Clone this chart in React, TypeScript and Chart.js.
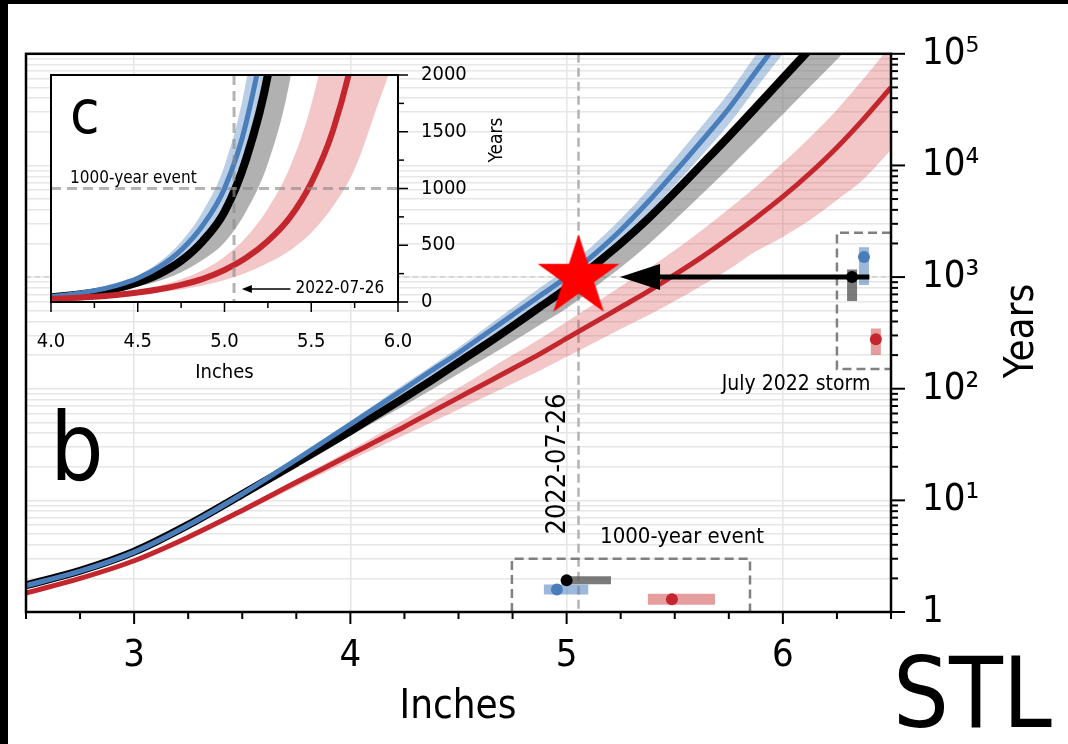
import React, { useEffect, useRef } from "react";
import { Chart, registerables } from "chart.js";
Chart.register(...registerables);

const FONT = '"DejaVu Sans Condensed", "DejaVu Sans", sans-serif';

// ---------------- data ----------------
const inches = [2.5, 2.75, 3, 3.25, 3.5, 3.75, 4, 4.125, 4.25, 4.375, 4.5, 4.625, 4.75, 4.875, 5, 5.125, 5.25, 5.375, 5.5, 5.625, 5.75, 5.875, 6, 6.125, 6.25, 6.375, 6.5];

// black curve (return period, years) with its band
const blackMid = [1.74, 2.34, 3.47, 6.03, 11.35, 21.6, 41.7, 58.9, 83.2, 119, 172, 248, 363, 537, 794, 1260, 2000, 3310, 5750, 10200, 18200, 33100, 60300, 110000, 200000, 372000, 708000];
const blackHi = [1.78, 2.4, 3.55, 6.17, 11.6, 22.4, 43.7, 61.9, 88.1, 126, 184, 267, 394, 585, 871, 1390, 2210, 3690, 6460, 11500, 20700, 37800, 69200, 127000, 232000, 434000, 832000];
const blackLo = [1.7, 2.29, 3.35, 5.75, 10.7, 20.2, 38, 51.9, 70.8, 97.7, 136, 188, 263, 372, 525, 800, 1220, 1940, 3240, 5530, 9440, 16500, 28800, 50700, 89100, 160000, 295000];

// blue curve
const blueMid = [1.72, 2.32, 3.44, 5.98, 11.4, 23.2, 47.9, 69.2, 100, 145, 209, 309, 457, 676, 1000, 1580, 2630, 4680, 8710, 16600, 32400, 69200, 145000, 302000, 631000, 1320000, 2750000];
const blueHi = [1.76, 2.37, 3.52, 6.14, 11.8, 24.3, 51.3, 75, 110, 160, 234, 352, 531, 798, 1200, 1950, 3310, 6030, 11500, 22400, 44700, 97700, 209000, 447000, 955000, 2040000, 4370000];
const blueLo = [1.68, 2.27, 3.36, 5.82, 11, 22.2, 44.7, 63.8, 91.2, 130, 186, 271, 394, 573, 832, 1290, 2090, 3630, 6610, 12300, 23400, 49000, 100000, 204000, 417000, 851000, 1740000];

// red curve
const redMid = [1.48, 2, 2.88, 4.68, 8.13, 14.5, 25.7, 34.3, 45.7, 61.7, 83.2, 112, 151, 204, 282, 389, 537, 741, 1050, 1510, 2240, 3390, 5250, 8510, 14500, 26300, 50100];
const redHi = [1.51, 2.04, 2.95, 4.84, 8.51, 15.5, 28.2, 38.6, 53.1, 73.6, 102, 143, 200, 279, 398, 571, 822, 1180, 1740, 2630, 4070, 6460, 10500, 17800, 31600, 60300, 120000];
const redLo = [1.45, 1.95, 2.79, 4.47, 7.67, 13.3, 22.9, 29.7, 38.5, 50.1, 65.3, 85.1, 111, 145, 193, 257, 343, 452, 610, 841, 1170, 1700, 2290, 3240, 4900, 7590, 13800];

// axis ticks
const yMajorTicks = [1, 10, 100, 1000, 10000, 100000];
const yTickLabels = ["1", "10\u00B9", "10\u00B2", "10\u00B3", "10\u2074", "10\u2075"];
const insetYTickLabels = [0, 500, 1000, 1500, 2000];
const insetXTickLabels = [4.0, 4.5, 5.0, 5.5, 6.0];

// storm of 2022-07-26
const stormInches = 5.055;
const thresholdYears = 1000;
const stormDateLabel = "2022-07-26";

// 1000-year event estimates (inches) : black, blue, red
const eventInches = [5.0, 4.955, 5.487];
const eventLow = [5.0, 4.895, 5.376];
const eventHigh = [5.205, 5.1, 5.686];

// July 2022 storm return period estimates (years) : black, blue, red
const stormYears = [1000, 1510, 277];
const stormLow = [610, 850, 200];
const stormHigh = [1170, 1850, 347];

// ---------------- styles ----------------
const BLUE = "#4a7ebb";
const RED = "#c4262e";
const BLACK = "#000000";
const COLORS = [BLACK, BLUE, RED];
const BAR_COLORS = ["rgba(90,90,90,0.8)", "rgba(74,126,187,0.55)", "rgba(205,60,60,0.5)"];
const GRID = "#e6e6e6";

type Series = { mid: number[]; lo: number[]; hi: number[]; color: string; band: string; order: number };
const SERIES: Series[] = [
  { mid: blackMid, lo: blackLo, hi: blackHi, color: BLACK, band: "rgba(100,100,100,0.5)", order: 3 },
  { mid: blueMid, lo: blueLo, hi: blueHi, color: BLUE, band: "rgba(74,126,187,0.38)", order: 2 },
  { mid: redMid, lo: redLo, hi: redHi, color: RED, band: "rgba(214,70,70,0.3)", order: 1 },
];

const pts = (ys: number[]) => inches.map((x, i) => ({ x, y: ys[i] }));

function curveDatasets(widths: number[]) {
  const ds: any[] = [];
  SERIES.forEach((s, k) => {
    const loIdx = ds.length;
    ds.push({ data: pts(s.lo), borderWidth: 0, pointRadius: 0, fill: false, cubicInterpolationMode: "monotone", order: 10 });
    ds.push({ data: pts(s.hi), borderWidth: 0, pointRadius: 0, fill: { target: loIdx }, backgroundColor: s.band, cubicInterpolationMode: "monotone", order: 10 });
    ds.push({ data: pts(s.mid), borderColor: s.color, borderWidth: widths[k], pointRadius: 0, fill: false, cubicInterpolationMode: "monotone", order: s.order, borderCapStyle: "butt" });
  });
  return ds;
}

function makeStar(R: number) {
  const c = document.createElement("canvas");
  const size = Math.ceil(2 * R + 2);
  c.width = size;
  c.height = size;
  const g = c.getContext("2d")!;
  g.fillStyle = "#ff0000";
  g.beginPath();
  for (let i = 0; i < 10; i++) {
    const r = i % 2 === 0 ? R : R * 0.382;
    const a = -Math.PI / 2 + (i * Math.PI) / 5;
    const px = size / 2 + r * Math.cos(a);
    const py = size / 2 + r * Math.sin(a);
    if (i === 0) g.moveTo(px, py);
    else g.lineTo(px, py);
  }
  g.closePath();
  g.fill();
  return c;
}

function seg(ctx: CanvasRenderingContext2D, x1: number, y1: number, x2: number, y2: number) {
  ctx.beginPath();
  ctx.moveTo(x1, y1);
  ctx.lineTo(x2, y2);
  ctx.stroke();
}

// annotation positions (data coordinates)
const stormBox = { x0: 6.25, y0: 150, y1: 2500 };
const eventBox = { x0: 4.747, x1: 5.848, y1: 3 };
const eventRowY = [1.92, 1.59, 1.3];
const stormColX = [6.32, 6.375, 6.43];
const arrowTail = 6.4;
const arrowTip = 5.247;

const mainPlugin = {
  id: "mainDecor",
  beforeDraw(chart: any) {
    const { ctx, width, height } = chart;
    ctx.save();
    ctx.fillStyle = "#fff";
    ctx.fillRect(0, 0, width, height);
    ctx.fillStyle = "#000";
    ctx.fillRect(0, 0, 8, height);
    ctx.fillRect(0, 0, width, 4);
    ctx.restore();
  },
  beforeDatasetsDraw(chart: any) {
    const { ctx, chartArea: a } = chart;
    const x = chart.scales.x;
    const y = chart.scales.y;
    ctx.save();
    ctx.beginPath();
    ctx.rect(a.left, a.top, a.right - a.left, a.bottom - a.top);
    ctx.clip();
    const yT = y.getPixelForValue(thresholdYears);
    ctx.setLineDash([5, 4]);
    ctx.strokeStyle = "#d0d0d0";
    ctx.lineWidth = 1.5;
    seg(ctx, a.left, yT, a.right, yT);
    const xs = x.getPixelForValue(stormInches);
    ctx.setLineDash([9, 5]);
    ctx.strokeStyle = "#b3b3b3";
    ctx.lineWidth = 2.5;
    seg(ctx, xs, a.top, xs, a.bottom);
    ctx.strokeStyle = "#808080";
    ctx.setLineDash([9, 5]);
    const sx0 = x.getPixelForValue(stormBox.x0);
    const sy0 = y.getPixelForValue(stormBox.y1);
    const sy1 = y.getPixelForValue(stormBox.y0);
    ctx.beginPath();
    ctx.moveTo(a.right, sy0);
    ctx.lineTo(sx0, sy0);
    ctx.lineTo(sx0, sy1);
    ctx.lineTo(a.right, sy1);
    ctx.stroke();
    const ex0 = x.getPixelForValue(eventBox.x0);
    const ex1 = x.getPixelForValue(eventBox.x1);
    const ey0 = y.getPixelForValue(eventBox.y1);
    ctx.beginPath();
    ctx.moveTo(ex0, a.bottom);
    ctx.lineTo(ex0, ey0);
    ctx.lineTo(ex1, ey0);
    ctx.lineTo(ex1, a.bottom);
    ctx.stroke();
    ctx.restore();
  },
  afterDatasetsDraw(chart: any) {
    const { ctx } = chart;
    const x = chart.scales.x;
    const y = chart.scales.y;
    const yA = y.getPixelForValue(thresholdYears);
    const xt = x.getPixelForValue(arrowTip);
    const xe = x.getPixelForValue(arrowTail);
    ctx.save();
    ctx.strokeStyle = "#000";
    ctx.fillStyle = "#000";
    ctx.lineWidth = 5;
    seg(ctx, xt + 30, yA, xe, yA);
    ctx.beginPath();
    ctx.moveTo(xt, yA);
    ctx.lineTo(xt + 40, yA - 13);
    ctx.lineTo(xt + 40, yA + 13);
    ctx.closePath();
    ctx.fill();
    ctx.restore();
  },
  afterDraw(chart: any) {
    const { ctx, chartArea: a } = chart;
    const x = chart.scales.x;
    const y = chart.scales.y;
    ctx.save();
    ctx.strokeStyle = "#000";
    ctx.lineWidth = 2;
    ctx.setLineDash([]);
    x.ticks.forEach((t: any) => {
      const px = x.getPixelForValue(t.value);
      const L = Number.isInteger(t.value) ? 12 : 7;
      seg(ctx, px, a.bottom, px, a.bottom + L);
    });
    y.ticks.forEach((t: any) => {
      const py = y.getPixelForValue(t.value);
      const L = yMajorTicks.includes(t.value) ? 14 : 7;
      seg(ctx, a.right, py, a.right + L, py);
    });
    ctx.lineWidth = 2.5;
    ctx.strokeRect(a.left, a.top, a.right - a.left, a.bottom - a.top);

    ctx.fillStyle = "#000";
    // panel letter
    ctx.font = `94px ${FONT}`;
    ctx.textAlign = "left";
    ctx.textBaseline = "alphabetic";
    ctx.fillText("b", 50, 480);
    // storm date (rotated)
    ctx.save();
    ctx.translate(x.getPixelForValue(stormInches) - 21, 464);
    ctx.rotate(-Math.PI / 2);
    ctx.font = `27px ${FONT}`;
    ctx.textAlign = "center";
    ctx.textBaseline = "middle";
    ctx.fillText(stormDateLabel, 0, 0);
    ctx.restore();
    // box labels
    ctx.font = `22px ${FONT}`;
    ctx.textAlign = "center";
    ctx.textBaseline = "alphabetic";
    ctx.fillText("1000-year event", 682, 543);
    ctx.font = `21px ${FONT}`;
    ctx.fillText("July 2022 storm", 796, 390);
    // axis titles
    ctx.font = `40px ${FONT}`;
    ctx.textBaseline = "middle";
    ctx.fillText("Inches", 458, 708);
    ctx.save();
    ctx.translate(1023, 331);
    ctx.rotate(-Math.PI / 2);
    ctx.font = `40px ${FONT}`;
    ctx.fillText("Years", 0, 0);
    ctx.restore();
    // station
    ctx.font = `98px ${FONT}`;
    ctx.textAlign = "left";
    ctx.textBaseline = "alphabetic";
    ctx.fillText("STL", 893, 727);
    ctx.restore();
  },
};

function mainConfig(star: HTMLCanvasElement): any {
  const ds = curveDatasets([8, 5, 5]);
  // 1000-year event bars and dots, July 2022 storm bars and dots
  [0, 1, 2].forEach((k) => {
    ds.push({
      data: [{ x: eventLow[k], y: eventRowY[k] }, { x: eventHigh[k], y: eventRowY[k] }],
      borderColor: BAR_COLORS[k], borderWidth: [8, 10, 11][k], pointRadius: 0, borderCapStyle: "butt", order: 0.5, fill: false,
    });
    ds.push({
      data: [{ x: eventInches[k], y: eventRowY[k] }],
      showLine: false, pointRadius: 6, pointBackgroundColor: COLORS[k], pointBorderWidth: 0, order: 0.2,
    });
    ds.push({
      data: [{ x: stormColX[k], y: stormLow[k] }, { x: stormColX[k], y: stormHigh[k] }],
      borderColor: BAR_COLORS[k], borderWidth: 10, pointRadius: 0, borderCapStyle: "butt", order: 0.5, fill: false,
    });
    ds.push({
      data: [{ x: stormColX[k], y: stormYears[k] }],
      showLine: false, pointRadius: 6, pointBackgroundColor: COLORS[k], pointBorderWidth: 0, order: 0.2,
    });
  });
  ds.push({
    data: [{ x: stormInches, y: thresholdYears }],
    showLine: false, pointRadius: 10, pointStyle: star, order: 0,
  });
  return {
    type: "line",
    data: { datasets: ds },
    plugins: [mainPlugin],
    options: {
      animation: false,
      responsive: false,
      devicePixelRatio: 1,
      events: [],
      layout: { padding: { left: 26, top: 47, right: 0, bottom: 0 } },
      plugins: { legend: { display: false }, tooltip: { enabled: false } },
      scales: {
        x: {
          type: "linear",
          min: 2.5,
          max: 6.5,
          afterBuildTicks: (s: any) => {
            const t = [];
            for (let v = 2.5; v <= 6.5 + 1e-9; v += 0.25) t.push({ value: v });
            s.ticks = t;
          },
          afterFit: (s: any) => {
            s.height = 132;
          },
          ticks: {
            autoSkip: false,
            maxRotation: 0,
            padding: 21,
            color: "#000",
            font: { family: FONT, size: 38 },
            callback: (v: any) => (Number.isInteger(v) ? String(v) : ""),
          },
          grid: {
            drawTicks: false,
            lineWidth: 1.5,
            color: (c: any) => (c.tick && Number.isInteger(c.tick.value) ? GRID : "rgba(0,0,0,0)"),
          },
          border: { display: false },
        },
        y: {
          type: "logarithmic",
          position: "right",
          min: 1,
          max: 100000,
          afterBuildTicks: (s: any) => {
            const t: any[] = [];
            yMajorTicks.forEach((m, i) => {
              t.push({ value: m });
              if (i < yMajorTicks.length - 1) for (let k = 2; k <= 9; k++) t.push({ value: m * k });
            });
            s.ticks = t;
          },
          afterFit: (s: any) => {
            s.width = 177;
          },
          ticks: {
            autoSkip: false,
            padding: 31,
            color: "#000",
            font: { family: FONT, size: 38 },
            callback: (v: any) => {
              const i = yMajorTicks.indexOf(Number(v));
              return i >= 0 ? yTickLabels[i] : "";
            },
          },
          grid: { drawTicks: false, lineWidth: 1.5, color: GRID },
          border: { display: false },
        },
      },
    },
  };
}

const insetPlugin = {
  id: "insetDecor",
  beforeDraw(chart: any) {
    const { ctx, chartArea: a } = chart;
    ctx.save();
    ctx.fillStyle = "#fff";
    ctx.fillRect(a.left, a.top, a.right - a.left, a.bottom - a.top);
    ctx.restore();
  },
  afterDatasetsDraw(chart: any) {
    const { ctx, chartArea: a } = chart;
    const x = chart.scales.x;
    const y = chart.scales.y;
    ctx.save();
    ctx.beginPath();
    ctx.rect(a.left, a.top, a.right - a.left, a.bottom - a.top);
    ctx.clip();
    ctx.strokeStyle = "rgba(140,140,140,0.65)";
    ctx.lineWidth = 3;
    ctx.setLineDash([10, 6]);
    const xs = x.getPixelForValue(stormInches);
    seg(ctx, xs, a.top, xs, a.bottom);
    const yT = y.getPixelForValue(thresholdYears);
    seg(ctx, a.left, yT, a.right, yT);
    ctx.restore();
  },
  afterDraw(chart: any) {
    const { ctx, chartArea: a } = chart;
    const x = chart.scales.x;
    const y = chart.scales.y;
    ctx.save();
    ctx.strokeStyle = "#000";
    ctx.lineWidth = 1.5;
    x.ticks.forEach((t: any) => {
      const px = x.getPixelForValue(t.value);
      const L = Number.isInteger(t.value * 2) ? 10 : 6;
      seg(ctx, px, a.bottom, px, a.bottom + L);
    });
    y.ticks.forEach((t: any) => {
      const py = y.getPixelForValue(t.value);
      const L = t.value % 500 === 0 ? 10 : 6;
      seg(ctx, a.right, py, a.right + L, py);
    });
    ctx.lineWidth = 2;
    ctx.strokeRect(a.left, a.top, a.right - a.left, a.bottom - a.top);
    ctx.fillStyle = "#000";
    ctx.font = `60px ${FONT}`;
    ctx.textAlign = "left";
    ctx.textBaseline = "alphabetic";
    ctx.fillText("c", 70, 133);
    ctx.font = `17px ${FONT}`;
    ctx.fillText("1000-year event", 70, 183);
    // arrow pointing to the storm date
    const ya = y.getPixelForValue(115);
    const xTip = x.getPixelForValue(5.1);
    const xTail = x.getPixelForValue(5.38);
    ctx.lineWidth = 1.5;
    seg(ctx, xTip + 6, ya, xTail, ya);
    ctx.beginPath();
    ctx.moveTo(xTip, ya);
    ctx.lineTo(xTip + 10, ya - 4);
    ctx.lineTo(xTip + 10, ya + 4);
    ctx.closePath();
    ctx.fill();
    ctx.textBaseline = "middle";
    ctx.fillText(stormDateLabel, xTail + 5, ya);
    // titles
    ctx.font = `20px ${FONT}`;
    ctx.textAlign = "center";
    ctx.fillText("Inches", (a.left + a.right) / 2, 373);
    ctx.save();
    ctx.translate(497, 140);
    ctx.rotate(-Math.PI / 2);
    ctx.font = `19px ${FONT}`;
    ctx.fillText("Years", 0, 0);
    ctx.restore();
    ctx.restore();
  },
};

function insetConfig(): any {
  return {
    type: "line",
    data: { datasets: curveDatasets([8, 5, 6]) },
    plugins: [insetPlugin],
    options: {
      animation: false,
      responsive: false,
      devicePixelRatio: 1,
      events: [],
      layout: { padding: { left: 51, top: 75, right: 570, bottom: 352 } },
      plugins: { legend: { display: false }, tooltip: { enabled: false } },
      scales: {
        x: {
          type: "linear",
          min: 4,
          max: 6,
          afterBuildTicks: (s: any) => {
            const t = [];
            for (let v = 4; v <= 6 + 1e-9; v += 0.25) t.push({ value: v });
            s.ticks = t;
          },
          afterFit: (s: any) => {
            s.height = 90;
          },
          ticks: {
            autoSkip: false,
            maxRotation: 0,
            padding: 20,
            color: "#000",
            font: { family: FONT, size: 20 },
            callback: (v: any) => (insetXTickLabels.includes(v) ? Number(v).toFixed(1) : ""),
          },
          grid: { display: false },
          border: { display: false },
        },
        y: {
          type: "linear",
          position: "right",
          min: 0,
          max: 2000,
          afterBuildTicks: (s: any) => {
            const t = [];
            for (let v = 0; v <= 2000; v += 250) t.push({ value: v });
            s.ticks = t;
          },
          afterFit: (s: any) => {
            s.width = 100;
          },
          ticks: {
            autoSkip: false,
            padding: 15,
            color: "#000",
            font: { family: FONT, size: 20 },
            callback: (v: any) => (insetYTickLabels.includes(v) ? String(v) : ""),
          },
          grid: { display: false },
          border: { display: false },
        },
      },
    },
  };
}

export default function App() {
  const mainRef = useRef<HTMLCanvasElement>(null);
  const insetRef = useRef<HTMLCanvasElement>(null);
  useEffect(() => {
    const star = makeStar(43);
    const main = new Chart(mainRef.current!, mainConfig(star));
    const inset = new Chart(insetRef.current!, insetConfig());
    return () => {
      main.destroy();
      inset.destroy();
    };
  }, []);
  return (
    <div style={{ position: "fixed", left: 0, top: 0, width: 1068, height: 744, background: "#fff" }}>
      <canvas ref={mainRef} width={1068} height={744} style={{ position: "absolute", left: 0, top: 0, width: 1068, height: 744 }} />
      <canvas ref={insetRef} width={1068} height={744} style={{ position: "absolute", left: 0, top: 0, width: 1068, height: 744 }} />
    </div>
  );
}
